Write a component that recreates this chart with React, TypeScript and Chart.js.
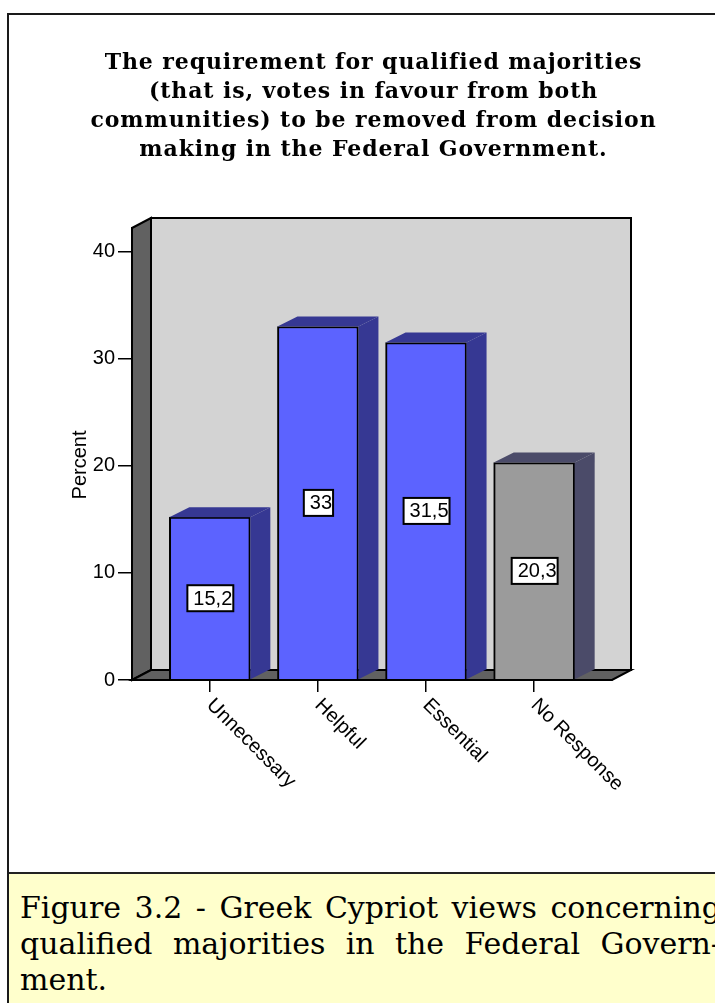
import React, { useEffect, useRef } from "react";
import { Chart, registerables } from "chart.js";

Chart.register(...registerables);

// ---------- data ----------
const TITLE_LINES = [
  "The requirement for qualified majorities",
  "(that is, votes in favour from both",
  "communities) to be removed from decision",
  "making in the Federal Government.",
];
const categories = ["Unnecessary", "Helpful", "Essential", "No Response"];
const percentValues = [15.2, 33, 31.5, 20.3];
const yTickValues = [0, 10, 20, 30, 40];
const Y_AXIS_TITLE = "Percent";
const CAPTION_LINES = [
  "Figure 3.2 - Greek Cypriot views concerning",
  "qualified majorities in the Federal Govern-",
  "ment.",
];

// ---------- styles ----------
const FRONT_COLORS = ["#5c63ff", "#5c63ff", "#5c63ff", "#9b9b9b"];
const SIDE_COLORS = ["#363893", "#363893", "#363893", "#4b4b69"];
const WALL_BACK = "#d3d3d3";
const WALL_DARK = "#616161";
const DEPTH_X = 19;
const DEPTH_Y = -10;
const BAR_DEPTH_X = 20;
const SANS = "'Liberation Sans', Arial, sans-serif";
const TITLE_FONT = "bold 22px 'DejaVu Serif', serif";
const CANVAS_W = 728;
const CANVAS_H = 857;

function poly(ctx: CanvasRenderingContext2D, pts: number[][], fill: string, stroke: boolean) {
  ctx.beginPath();
  ctx.moveTo(pts[0][0], pts[0][1]);
  for (let i = 1; i < pts.length; i++) ctx.lineTo(pts[i][0], pts[i][1]);
  ctx.closePath();
  ctx.fillStyle = fill;
  ctx.fill();
  if (stroke) ctx.stroke();
}

const box3dPlugin = {
  id: "box3d",
  beforeDraw(chart: any) {
    // chart title (serif, bold)
    const { ctx, width } = chart;
    ctx.save();
    ctx.font = TITLE_FONT;
    (ctx as any).letterSpacing = "0.9px";
    ctx.fillStyle = "#000";
    ctx.textAlign = "center";
    ctx.textBaseline = "middle";
    TITLE_LINES.forEach((line, i) => {
      ctx.fillText(line, width / 2 + 0.5, 48 + i * 29);
    });
    ctx.restore();
  },
  beforeDatasetsDraw(chart: any) {
    const { ctx, chartArea } = chart;
    const { left, right, top, bottom } = chartArea;
    ctx.save();
    ctx.lineWidth = 2;
    ctx.strokeStyle = "#000";
    ctx.lineJoin = "miter";
    // back wall
    poly(
      ctx,
      [
        [left + DEPTH_X, top + DEPTH_Y],
        [right + DEPTH_X, top + DEPTH_Y],
        [right + DEPTH_X, bottom + DEPTH_Y],
        [left + DEPTH_X, bottom + DEPTH_Y],
      ],
      WALL_BACK,
      true
    );
    // left wall
    poly(
      ctx,
      [
        [left, top],
        [left + DEPTH_X, top + DEPTH_Y],
        [left + DEPTH_X, bottom + DEPTH_Y],
        [left, bottom],
      ],
      WALL_DARK,
      true
    );
    // floor
    poly(
      ctx,
      [
        [left, bottom],
        [left + DEPTH_X, bottom + DEPTH_Y],
        [right + DEPTH_X, bottom + DEPTH_Y],
        [right, bottom],
      ],
      WALL_DARK,
      true
    );
    ctx.restore();
  },
  afterDatasetsDraw(chart: any) {
    const { ctx, chartArea } = chart;
    const meta = chart.getDatasetMeta(0);
    ctx.save();
    meta.data.forEach((el: any, i: number) => {
      const { x, y, base, width } = el.getProps(["x", "y", "base", "width"], true);
      const l = x - width / 2;
      const r = x + width / 2;
      // side face
      poly(
        ctx,
        [
          [r, y],
          [r + BAR_DEPTH_X, y + DEPTH_Y],
          [r + BAR_DEPTH_X, base + DEPTH_Y],
          [r, base],
        ],
        SIDE_COLORS[i],
        false
      );
      // top face
      poly(
        ctx,
        [
          [l, y],
          [l + BAR_DEPTH_X, y + DEPTH_Y],
          [r + BAR_DEPTH_X, y + DEPTH_Y],
          [r, y],
        ],
        SIDE_COLORS[i],
        false
      );
    });
    // front floor edge (x axis line) over the bar bottoms
    ctx.strokeStyle = "#000";
    ctx.lineWidth = 2;
    ctx.beginPath();
    ctx.moveTo(chartArea.left, chartArea.bottom);
    ctx.lineTo(chartArea.right, chartArea.bottom);
    ctx.stroke();

    // value labels
    ctx.font = `20px ${SANS}`;
    ctx.textBaseline = "middle";
    ctx.textAlign = "left";
    meta.data.forEach((el: any, i: number) => {
      const { x, y, base } = el.getProps(["x", "y", "base"], true);
      const txt = String(percentValues[i]).replace(".", ",");
      const w = ctx.measureText(txt).width;
      const cy = (y + base) / 2;
      const tx = x + 3 - w / 2;
      const bx = tx - 6;
      const bw = w + 7;
      const bh = 26;
      ctx.fillStyle = "#fff";
      ctx.fillRect(bx, cy - bh / 2, bw, bh);
      ctx.lineWidth = 2;
      ctx.strokeStyle = "#000";
      ctx.strokeRect(bx, cy - bh / 2, bw, bh);
      ctx.fillStyle = "#000";
      ctx.fillText(txt, tx, cy + 1);
    });
    ctx.restore();
  },
  afterDraw(chart: any) {
    const { ctx } = chart;
    const xs = chart.scales.x;
    ctx.save();
    ctx.fillStyle = "#000";
    ctx.font = `20px ${SANS}`;
    ctx.textAlign = "left";
    ctx.textBaseline = "top";
    categories.forEach((label, i) => {
      const px = xs.getPixelForValue(i);
      const py = xs.top + 12;
      ctx.save();
      ctx.translate(px + 7, py + 3);
      ctx.rotate(Math.PI / 4);
      ctx.fillText(label, 0, 0);
      ctx.restore();
    });
    // y axis title
    ctx.save();
    ctx.translate(71, 450);
    ctx.rotate(-Math.PI / 2);
    ctx.textAlign = "center";
    ctx.textBaseline = "middle";
    ctx.fillText(Y_AXIS_TITLE, 0, 0);
    ctx.restore();
    ctx.restore();
  },
};

function ChartCanvas() {
  const ref = useRef<HTMLCanvasElement | null>(null);
  useEffect(() => {
    if (!ref.current) return;
    const chart = new Chart(ref.current, {
      type: "bar",
      data: {
        datasets: [
          {
            data: categories.map((_, i) => ({ x: i, y: percentValues[i] })),
            backgroundColor: FRONT_COLORS,
            borderColor: "#000",
            borderWidth: 2,
            borderSkipped: "start",
            barThickness: 81,
            yAxisID: "y",
            xAxisID: "x",
          } as any,
        ],
      },
      options: {
        responsive: false,
        animation: false,
        devicePixelRatio: 1,
        events: [],
        layout: { padding: { top: 213, left: 0, right: 0, bottom: 0 } },
        plugins: {
          legend: { display: false },
          tooltip: { enabled: false },
          title: { display: false },
        },
        scales: {
          x: {
            type: "linear",
            offset: false,
            min: -0.72,
            max: 3.72,
            afterBuildTicks: (s: any) => {
              s.ticks = categories.map((_, i) => ({ value: i }));
            },
            afterFit: (s: any) => {
              s.height = 192;
            },
            grid: {
              offset: false,
              drawOnChartArea: false,
              drawTicks: true,
              tickLength: 12,
              color: "#000",
              lineWidth: 1.5,
            },
            border: { display: true, color: "#000", width: 2 },
            ticks: { display: false },
          },
          y: {
            type: "linear",
            position: "left",
            min: 0,
            max: 42.2,
            afterBuildTicks: (s: any) => {
              s.ticks = yTickValues.map((v) => ({ value: v }));
            },
            afterFit: (s: any) => {
              s.width = 123;
            },
            grid: { drawOnChartArea: false, drawTicks: true, tickLength: 14, color: "#000", lineWidth: 1.5 },
            border: { display: true, color: "#000", width: 2 },
            ticks: { color: "#000", padding: 3, font: { family: SANS, size: 20 } },
          },
          // empty right-hand margin box
          rightMargin: {
            type: "linear",
            position: "right",
            display: true,
            afterFit: (s: any) => {
              s.width = 125;
            },
            grid: { display: false },
            border: { display: false },
            ticks: { display: false },
          },
        },
      } as any,
      plugins: [box3dPlugin],
    });
    return () => chart.destroy();
  }, []);
  return <canvas ref={ref} width={CANVAS_W} height={CANVAS_H} style={{ display: "block" }} />;
}

export default function App() {
  return (
    <div
      style={{
        position: "fixed",
        left: 0,
        top: 0,
        width: 715,
        height: 1003,
        overflow: "hidden",
        background: "#fff",
      }}
    >
      <div
        style={{
          position: "absolute",
          left: 7,
          top: 13,
          width: 740,
          height: 1010,
          border: "2px solid #1a1a1a",
          boxSizing: "border-box",
          background: "#fff",
        }}
      >
        <ChartCanvas />
        <div
          style={{
            borderTop: "2px solid #222",
            background: "#ffffcc",
            padding: "16px 24px 0 11px",
            height: 200,
            fontFamily: "'DejaVu Serif', serif",
            fontSize: 30,
            lineHeight: "36px",
            color: "#000",
          }}
        >
          {CAPTION_LINES.map((line, i) => (
            <div
              key={i}
              style={{
                textAlign: i < CAPTION_LINES.length - 1 ? "justify" : "left",
                textAlignLast: i < CAPTION_LINES.length - 1 ? "justify" : "left",
                whiteSpace: "nowrap",
              } as any}
            >
              {line}
            </div>
          ))}
        </div>
      </div>
    </div>
  );
}
